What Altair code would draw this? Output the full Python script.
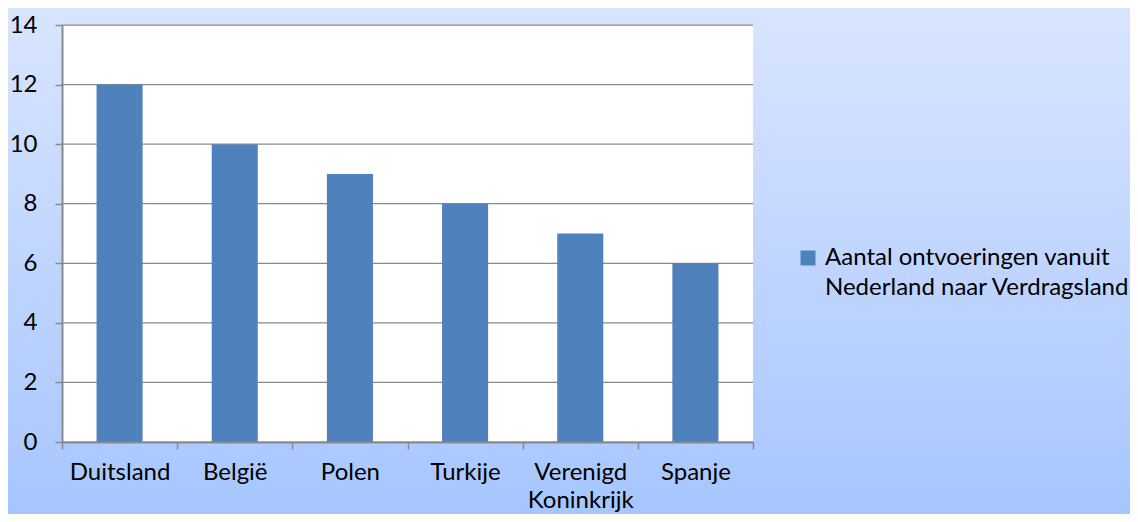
import altair as alt
import pandas as pd

categories = ["Duitsland", "België", "Polen", "Turkije", "Verenigd Koninkrijk", "Spanje"]
values = [12, 10, 9, 8, 7, 6]
series_name = "Aantal ontvoeringen vanuit\nNederland naar Verdragsland"
y_ticks = [0, 2, 4, 6, 8, 10, 12, 14]

W, H = 691, 417
PAD = {"left": 54, "top": 17, "right": 377, "bottom": 72}
FONT = "Lato"
FS = 24
GRAY = "#898989"

df = pd.DataFrame({"land": categories, "aantal": values, "serie": [series_name] * len(values)})
one = pd.DataFrame({"k": [0]})
grid_df = pd.DataFrame({"aantal": y_ticks})

bg = alt.Chart(one).mark_rect(
    color=alt.Gradient(
        gradient="linear",
        stops=[alt.GradientStop(color="#d9e5ff", offset=0), alt.GradientStop(color="#a7c6ff", offset=1)],
        x1=0, x2=0, y1=0, y2=1,
    )
).encode(
    x=alt.value(-PAD["left"]), x2=alt.value(W + PAD["right"]),
    y=alt.value(-PAD["top"]), y2=alt.value(H + PAD["bottom"]),
)

plotbg = alt.Chart(one).mark_rect(color="white").encode(
    x=alt.value(0), x2=alt.value(W), y=alt.value(0), y2=alt.value(H)
)

yscale = alt.Scale(domain=[0, 14])
yaxis = alt.Axis(
    values=y_ticks, grid=False, tickSize=7, tickColor=GRAY, tickWidth=1.5,
    domainColor=GRAY, domainWidth=2, labelPadding=18, labelFont=FONT,
    labelFontSize=FS, labelColor="black", zindex=1,
)

grid = alt.Chart(grid_df).mark_rule(color=GRAY, strokeWidth=1.25).encode(
    y=alt.Y("aantal:Q", scale=yscale, axis=yaxis, title=None)
)

bars = alt.Chart(df).mark_bar(width=alt.RelativeBandSize(0.4)).encode(
    x=alt.X(
        "land:N", sort=categories, title=None,
        scale=alt.Scale(paddingInner=0, paddingOuter=0),
        axis=alt.Axis(
            labelAngle=0, labelExpr="split(datum.label, ' ')", labelLineHeight=28,
            labelBaseline="top", labelPadding=11, tickBand="extent", tickSize=7,
            tickColor=GRAY, tickWidth=1.5, domainColor=GRAY, domainWidth=2,
            labelFont=FONT, labelFontSize=FS, labelColor="black", zindex=1, grid=False,
        ),
    ),
    y=alt.Y("aantal:Q", scale=yscale, title=None, axis=yaxis),
    color=alt.Color(
        "serie:N", title=None,
        scale=alt.Scale(range=["#4F81BD"]),
        legend=alt.Legend(
            orient="none", legendX=734, legendY=221, symbolType="square", symbolSize=225,
            symbolStrokeWidth=0, labelFont=FONT, labelFontSize=FS, labelColor="black",
            labelExpr="split(datum.label, '\\n')", labelLimit=400,
            labelOffset=5, padding=0,
        ),
    ),
)

chart = alt.layer(bg, plotbg, grid, bars).properties(
    width=W, height=H, padding=PAD,
    autosize=alt.AutoSizeParams(type="none"),
).configure_view(stroke=None).configure(
    style={"guide-label": {"lineHeight": 30}}
)

chart.save("out.html", embed_options={"renderer": "svg", "actions": False})
